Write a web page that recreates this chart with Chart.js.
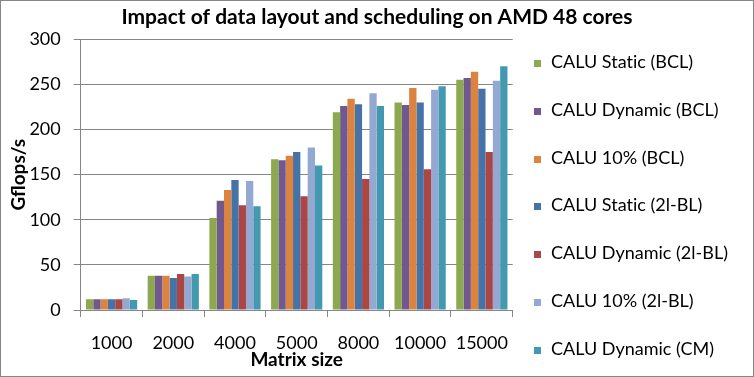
<!DOCTYPE html>
<html>
<head>
<meta charset="utf-8">
<script src="https://cdn.jsdelivr.net/npm/chart.js@4/dist/chart.umd.min.js"></script>
<style>
  body { margin: 0; background: #fff; }
  #wrap { position: relative; width: 754px; height: 377px; box-sizing: border-box; border: 1px solid #868686; }
  #chart { position: absolute; left: 0; top: 0; }
  #legend { position: absolute; left: 533px; top: 0; font-family: Lato, 'Open Sans', sans-serif; font-size: 18px; color: #000; font-variant-ligatures: none; }
  .item { position: absolute; left: 0; white-space: nowrap; height: 22px; line-height: 22px; }
  .box { display: inline-block; width: 7px; height: 7px; margin-right: 10px; vertical-align: 1px; }
</style>
</head>
<body>
<div id="wrap"><canvas id="chart" width="752" height="375"></canvas><div id="legend"></div></div>
<script>
const categories = ['1000', '2000', '4000', '5000', '8000', '10000', '15000'];
const seriesNames = [
    'CALU Static (BCL)', 'CALU Dynamic (BCL)', 'CALU 10% (BCL)', 'CALU Static (2l-BL)',
    'CALU Dynamic (2l-BL)', 'CALU 10% (2l-BL)', 'CALU Dynamic (CM)'
];
const staticBCL = [12, 38, 102, 167, 219, 230, 255];
const dynamicBCL = [12, 38, 121, 166, 226, 227, 257];
const tenBCL = [12, 38, 133, 171, 234, 246, 264];
const static2l = [12, 35.5, 144, 175, 228, 230, 245];
const dynamic2l = [12, 40, 116, 126, 145, 156, 175];
const ten2l = [13, 37, 143, 180, 240, 244, 254];
const dynamicCM = [11, 40, 115, 160, 226, 248, 270];
const colors = ['#8DA94F', '#71598F', '#DC8340', '#4573A7', '#AA4644', '#94A9D1', '#439AB0'];

const seriesValues = [staticBCL, dynamicBCL, tenBCL, static2l, dynamic2l, ten2l, dynamicCM];
const font = "Lato, 'Open Sans', sans-serif";

// legend drawn as html next to the plot
const legend = document.getElementById('legend');
seriesNames.forEach((name, i) => {
    const item = document.createElement('div');
    item.className = 'item';
    item.style.top = (49 + i * 47.8) + 'px';
    item.innerHTML = `<span class="box" style="background:${colors[i]}"></span>${name}`;
    legend.appendChild(item);
});

new Chart(document.getElementById('chart'), {
    type: 'bar',
    data: {
        labels: categories,
        datasets: seriesValues.map((vals, i) => ({
            label: seriesNames[i],
            data: vals,
            backgroundColor: colors[i],
            categoryPercentage: 0.83,
            barPercentage: 1
        }))
    },
    options: {
        responsive: false,
        animation: false,
        layout: { padding: 0 },
        plugins: {
            title: {
                display: true,
                text: 'Impact of data layout and scheduling on AMD 48 cores',
                font: { family: font, size: 21, weight: 'bold' },
                color: '#000',
                padding: { top: 4, bottom: 9 }
            },
            legend: { display: false },
            tooltip: { enabled: false }
        },
        scales: {
            x: {
                afterFit: (scale) => { scale.height = 66; },
                grid: { drawOnChartArea: false, drawTicks: true, tickLength: 7, color: '#868686', offset: true },
                border: { color: '#868686' },
                ticks: { color: '#000', font: { family: font, size: 18 }, padding: 15, maxRotation: 0 },
                title: { display: true, text: 'Matrix size', color: '#000', font: { family: font, size: 19, weight: 'bold' }, padding: { top: 0, bottom: 5 } }
            },
            y: {
                min: 0,
                max: 300,
                afterFit: (scale) => { scale.width = 79.7; },
                ticks: { stepSize: 50, color: '#000', font: { family: font, size: 18 }, padding: 13 },
                grid: { color: '#868686', tickLength: 7 },
                border: { color: '#868686' },
                title: { display: true, text: 'Gflops/s', color: '#000', font: { family: font, size: 19, weight: 'bold' }, padding: { top: 6, bottom: 0 } }
            },
            // empty right-hand axis that only reserves room for the legend
            legendSpace: {
                type: 'linear',
                position: 'right',
                afterFit: (scale) => { scale.width = 240.3; },
                ticks: { display: false },
                grid: { display: false },
                border: { display: false }
            }
        }
    }
});
</script>
</body>
</html>
